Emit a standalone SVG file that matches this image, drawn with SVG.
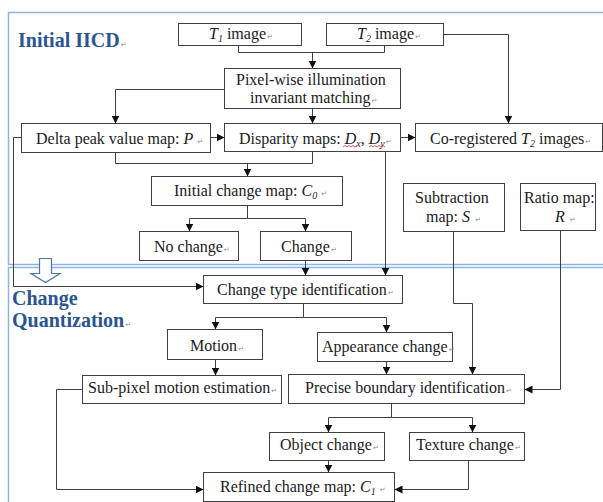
<svg xmlns="http://www.w3.org/2000/svg" width="603" height="502" viewBox="0 0 603 502">
<defs>
<style>
.box{fill:#fff;stroke:#3f3f3f;stroke-width:1}
.t{font-family:"Liberation Serif","Times New Roman",serif;font-size:16px;fill:#1a1a1a}
.i{font-style:italic}
.pm{font-family:"DejaVu Sans",sans-serif;font-size:7px;fill:#8a8a8a;font-style:normal;font-weight:normal}
.c{fill:none;stroke:#3f3f3f;stroke-width:1}
.a{marker-end:url(#ah)}
.frame{fill:none;stroke:#8eb4e3;stroke-width:1.5}
.title{font-family:"Liberation Serif","Times New Roman",serif;font-weight:bold;font-size:20px;fill:#2a5591}
</style>
<marker id="ah" markerWidth="8" markerHeight="8" refX="8" refY="4" orient="auto" markerUnits="userSpaceOnUse">
<path d="M0,0 L8,4 L0,8 z" fill="#111"/>
</marker>
</defs>
<rect width="603" height="502" fill="#fff"/>
<g id="frames">
<path class="frame" d="M603,12.5 H8.5 V264.5 H603"/>
<path class="frame" d="M603,267.5 H8.5 V502"/>
<path d="M39.5,258.5 H51.5 V273.5 H60 L45.5,282.5 L31,273.5 H39.5 Z" fill="#fff" stroke="#4a76b0" stroke-width="1.2"/>
<text class="title" x="18" y="47">Initial IICD<tspan class="pm" dx="1">↵</tspan></text>
<text class="title" x="12" y="305">Change</text>
<text class="title" x="12" y="327">Quantization<tspan class="pm" dx="1">↵</tspan></text>
</g>
<g id="connectors">
<path class="c" d="M238.5,45.5 V52.5 H384.5 V45.5"/>
<path class="c a" d="M312.5,52.5 V68.5"/>
<path class="c a" d="M224.5,89.5 H115.5 V123.5"/>
<path class="c a" d="M312.5,108.5 V123.5"/>
<path class="c a" d="M443.5,34.5 H508.5 V123.5"/>
<path class="c a" d="M210.5,137.5 H224.5"/>
<path class="c a" d="M400.5,137.5 H415.5"/>
<path class="c" d="M115.5,152.5 V163.5 H312.5 V151.5"/>
<path class="c a" d="M247.5,163.5 V176.5"/>
<path class="c a" d="M247.5,205.5 V218.5 H189.5 V231.5"/>
<path class="c a" d="M247.5,218.5 H305.5 V231.5"/>
<path class="c a" d="M385.5,151.5 V275.5"/>
<path class="c a" d="M305.5,260.5 V275.5"/>
<path class="c a" d="M21.5,137.5 H13.5 V286.5 H203.5"/>
<path class="c a" d="M303.5,303.5 V317.5 H215.5 V329.5"/>
<path class="c a" d="M303.5,317.5 H386.5 V332.5"/>
<path class="c a" d="M215.5,359.5 V375.5"/>
<path class="c a" d="M386.5,361.5 V374.5"/>
<path class="c a" d="M453.5,231.5 V303.5 H472.5 V374.5"/>
<path class="c a" d="M560.5,230.5 V389.5 H524.5"/>
<path class="c a" d="M391.5,403.5 V417.5 H328.5 V432.5"/>
<path class="c a" d="M391.5,417.5 H472.5 V432.5"/>
<path class="c a" d="M328.5,460.5 V472.5"/>
<path class="c a" d="M468.5,460.5 V489.5 H394.5"/>
<path class="c a" d="M82.5,389.5 H56.5 V489.5 H203.5"/>
</g>
<g id="t1">
<rect class="box" x="178.5" y="23.5" width="123" height="22"/>
<text class="t" x="209" y="39"><tspan class="i">T</tspan><tspan class="i" font-size="10" dy="3">1</tspan><tspan dy="-3"> image</tspan><tspan class="pm" dx="1">↵</tspan></text>
</g>
<g id="t2">
<rect class="box" x="326.5" y="23.5" width="117" height="22"/>
<text class="t" x="357" y="39"><tspan class="i">T</tspan><tspan class="i" font-size="10" dy="3">2</tspan><tspan dy="-3"> image</tspan><tspan class="pm" dx="1">↵</tspan></text>
</g>
<g id="pixelwise">
<rect class="box" x="224.5" y="68.5" width="176" height="40"/>
<text class="t" x="236" y="85">Pixel-wise illumination</text>
<text class="t" x="250" y="103">invariant matching<tspan class="pm" dx="1">↵</tspan></text>
</g>
<g id="delta">
<rect class="box" x="21.5" y="123.5" width="189" height="29"/>
<text class="t" x="36" y="144">Delta peak value map: <tspan class="i">P</tspan><tspan class="pm" dx="4">↵</tspan></text>
</g>
<g id="disparity">
<rect class="box" x="224.5" y="123.5" width="176" height="28"/>
<text class="t" x="239" y="144">Disparity maps: <tspan class="i">D</tspan><tspan class="i" font-size="10" dy="3">x</tspan><tspan dy="-3">, </tspan><tspan class="i">D</tspan><tspan class="i" font-size="10" dy="3">y</tspan><tspan class="pm" dy="-3" dx="1">↵</tspan></text>
<path d="M343,147 l2,-1.5 l2,1.5 l2,-1.5 l2,1.5 l2,-1.5 l2,1.5 l2,-1.5 M369,147 l2,-1.5 l2,1.5 l2,-1.5 l2,1.5 l2,-1.5 l2,1.5 l2,-1.5 l2,1.5" fill="none" stroke="#e03030" stroke-width="0.8"/>
</g>
<g id="coreg">
<rect class="box" x="415.5" y="123.5" width="187" height="28"/>
<text class="t" x="430" y="144">Co-registered <tspan class="i">T</tspan><tspan class="i" font-size="10" dy="3">2</tspan><tspan dy="-3"> images</tspan><tspan class="pm" dx="1">↵</tspan></text>
</g>
<g id="initial">
<rect class="box" x="151.5" y="176.5" width="191" height="29"/>
<text class="t" x="174" y="196">Initial change map: <tspan class="i">C</tspan><tspan class="i" font-size="10" dy="3">0</tspan><tspan class="pm" dy="-3" dx="4">↵</tspan></text>
</g>
<g id="subtraction">
<rect class="box" x="403.5" y="183.5" width="101" height="48"/>
<text class="t" x="415" y="203">Subtraction</text>
<text class="t" x="426" y="222">map: <tspan class="i">S</tspan><tspan class="pm" dx="5">↵</tspan></text>
</g>
<g id="ratio">
<rect class="box" x="520.5" y="183.5" width="75" height="47"/>
<text class="t" x="524" y="203">Ratio map:</text>
<text class="t" x="555" y="222"><tspan class="i">R</tspan><tspan class="pm" dx="5">↵</tspan></text>
</g>
<g id="nochange">
<rect class="box" x="139.5" y="231.5" width="99" height="29"/>
<text class="t" x="154" y="252">No change<tspan class="pm" dx="1">↵</tspan></text>
</g>
<g id="change">
<rect class="box" x="260.5" y="231.5" width="91" height="29"/>
<text class="t" x="281" y="252">Change<tspan class="pm" dx="1">↵</tspan></text>
</g>
<g id="changetype">
<rect class="box" x="203.5" y="275.5" width="199" height="28"/>
<text class="t" x="217" y="295">Change type identification<tspan class="pm" dx="1">↵</tspan></text>
</g>
<g id="motion">
<rect class="box" x="167.5" y="329.5" width="95" height="30"/>
<text class="t" x="190" y="351">Motion<tspan class="pm" dx="1">↵</tspan></text>
</g>
<g id="appearance">
<rect class="box" x="317.5" y="332.5" width="135" height="29"/>
<text class="t" x="322" y="352">Appearance change<tspan class="pm" dx="1">↵</tspan></text>
</g>
<g id="subpixel">
<rect class="box" x="82.5" y="375.5" width="199" height="28"/>
<text class="t" x="88" y="393">Sub-pixel motion estimation<tspan class="pm" dx="1">↵</tspan></text>
</g>
<g id="precise">
<rect class="box" x="288.5" y="374.5" width="236" height="29"/>
<text class="t" x="305" y="393">Precise boundary identification<tspan class="pm" dx="1">↵</tspan></text>
</g>
<g id="object">
<rect class="box" x="269.5" y="432.5" width="115" height="28"/>
<text class="t" x="280" y="450">Object change<tspan class="pm" dx="1">↵</tspan></text>
</g>
<g id="texture">
<rect class="box" x="409.5" y="432.5" width="115" height="28"/>
<text class="t" x="416" y="450">Texture change<tspan class="pm" dx="1">↵</tspan></text>
</g>
<g id="refined">
<rect class="box" x="203.5" y="472.5" width="191" height="29"/>
<text class="t" x="220" y="492">Refined change map: <tspan class="i">C</tspan><tspan class="i" font-size="10" dy="3">1</tspan><tspan class="pm" dy="-3" dx="4">↵</tspan></text>
</g>
</svg>
